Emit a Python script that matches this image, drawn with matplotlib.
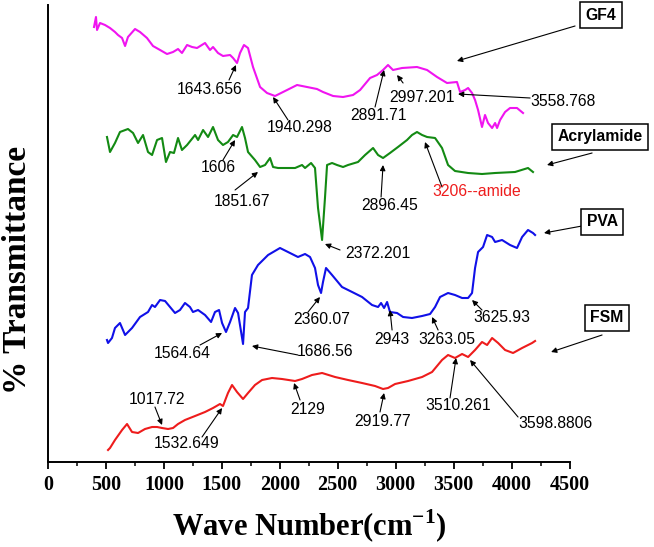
import matplotlib
matplotlib.use("Agg")
import matplotlib.pyplot as plt

# FTIR spectra, wavenumber (cm-1) vs transmittance (arbitrary offset units)
gf4_x = [397, 414, 423, 449, 492, 535, 578, 604, 639, 665, 690, 751, 794, 854, 906, 967,
         1027, 1079, 1122, 1156, 1200, 1243, 1286, 1355, 1398, 1424, 1467, 1510, 1571, 1597,
         1631, 1657, 1691, 1726, 1769, 1830, 1890, 1959, 2063, 2149, 2235, 2321, 2373, 2460,
         2546, 2632, 2693, 2779, 2839, 2891, 2934, 2977, 3055, 3184, 3271, 3357, 3443, 3529,
         3556, 3599, 3625, 3659, 3685, 3711, 3745, 3771, 3797, 3832, 3858, 3875, 3901, 3944,
         3987, 4047, 4099]
gf4_y = [435, 445, 432, 439, 437, 434, 430, 427, 424, 416, 425, 433, 430, 424, 416, 412,
         408, 410, 413, 409, 417, 415, 414, 419, 412, 415, 409, 406, 407, 404,
         399, 409, 417, 414, 395, 375, 369, 366, 372, 377, 375, 373, 370, 366,
         365, 367, 372, 384, 387, 392, 397, 392, 394, 395, 392, 385, 379, 380,
         370, 372, 374, 369, 362, 352, 335, 347, 339, 334, 339, 334, 342, 350,
         354, 354, 349]

acr_x = [509, 535, 578, 621, 690, 734, 777, 820, 863, 898, 941, 984, 1018, 1053, 1087, 1122,
         1156, 1200, 1269, 1295, 1338, 1381, 1424, 1467, 1510, 1553, 1597, 1631, 1674, 1700,
         1726, 1786, 1830, 1873, 1916, 1942, 1985, 2063, 2132, 2192, 2218, 2270, 2304, 2330,
         2365, 2390, 2408, 2451, 2494, 2546, 2589, 2675, 2736, 2805, 2848, 2891, 2951, 3020,
         3098, 3141, 3184, 3228, 3271, 3340, 3400, 3452, 3512, 3625, 3745, 3858, 4030, 4142,
         4185]
acr_y = [325, 310, 319, 330, 333, 329, 319, 327, 310, 307, 322, 324, 300, 310, 309, 324,
         312, 317, 327, 322, 332, 325, 335, 322, 317, 320, 327, 325, 335, 324,
         310, 302, 295, 297, 304, 295, 294, 294, 294, 297, 294, 299, 294, 254,
         222, 264, 297, 299, 297, 295, 297, 300, 307, 314, 307, 304, 309, 315,
         322, 327, 330, 327, 325, 324, 314, 297, 291, 289, 288, 289, 290, 294,
         290]

pva_x = [509, 518, 552, 578, 621, 665, 725, 794, 863, 898, 923, 967, 1010, 1053, 1096, 1139,
         1182, 1225, 1251, 1295, 1355, 1407, 1441, 1476, 1502, 1536, 1571, 1614, 1640, 1683,
         1700, 1726, 1760, 1812, 1899, 2002, 2071, 2157, 2218, 2261, 2304, 2330, 2356, 2373,
         2399, 2451, 2537, 2624, 2710, 2796, 2848, 2874, 2900, 2926, 2951, 3012, 3064, 3141,
         3228, 3297, 3340, 3383, 3452, 3512, 3573, 3625, 3659, 3685, 3711, 3754, 3789, 3832,
         3858, 3918, 3987, 4047, 4091, 4142, 4185, 4203]
pva_y = [122, 119, 124, 134, 139, 127, 134, 145, 150, 157, 155, 162, 161, 155, 149, 152,
         159, 155, 150, 152, 147, 140, 150, 152, 139, 130, 140, 154, 149, 118,
         150, 154, 187, 197, 207, 214, 210, 205, 208, 205, 194, 177, 169, 180,
         194, 187, 175, 170, 165, 157, 155, 159, 154, 160, 150, 149, 145, 144,
         146, 148, 155, 165, 169, 167, 164, 164, 169, 194, 210, 215, 227, 225,
         220, 222, 217, 214, 225, 232, 229, 227]

fsm_x = [518, 535, 578, 639, 682, 725, 777, 837, 898, 941, 984, 1036, 1079, 1122, 1182, 1269,
         1355, 1424, 1484, 1510, 1553, 1588, 1631, 1683, 1726, 1786, 1847, 1933, 2019, 2132,
         2192, 2278, 2365, 2477, 2589, 2710, 2822, 2891, 2934, 2995, 3107, 3228, 3314, 3400,
         3452, 3512, 3573, 3625, 3685, 3745, 3789, 3832, 3884, 3944, 4013, 4091, 4177, 4203]
fsm_y = [12, 14, 22, 32, 38, 30, 29, 33, 35, 35, 34, 33, 34, 38, 42, 46,
         50, 54, 58, 56, 69, 77, 70, 63, 69, 77, 82, 84, 83, 81,
         83, 87, 89, 85, 82, 79, 76, 73, 74, 78, 81, 85, 90, 102,
         107, 104, 108, 105, 112, 120, 117, 124, 119, 112, 109, 114, 119, 121]

# peak labels: text, text position, arrow tail, arrow tip, colour
peak_labels = [
    ("1643.656", (1398, 372), (1562, 382), (1622, 397), "black"),
    ("1940.298", (2175, 334), (2071, 342), (1942, 365), "black"),
    ("2891.71", (2848, 347), (2822, 355), (2900, 392), "black"),
    ("2997.201", (3228, 365), (3064, 379), (3012, 387), "black"),
    ("3558.768", (4444, 360), (4160, 364), (3538, 368), "black"),
    ("1606", (1467, 294), (1510, 302), (1614, 322), "black"),
    ("1851.67", (1674, 260), (1614, 272), (1812, 290), "black"),
    ("2372.201", (2848, 209), (2520, 212), (2390, 218), "black"),
    ("2896.45", (2951, 257), (2874, 265), (2891, 297), "black"),
    ("3206--amide", (3702, 270), (3400, 275), (3253, 320), "#ee1c1c"),
    ("2360.07", (2365, 142), (2244, 150), (2347, 165), "black"),
    ("1564.64", (1156, 108), (1312, 117), (1502, 129), "black"),
    ("1686.56", (2390, 110), (2157, 107), (1760, 116), "black"),
    ("2943", (2969, 123), (2969, 132), (2951, 152), "black"),
    ("3263.05", (3443, 123), (3366, 132), (3314, 145), "black"),
    ("3625.93", (3918, 144), (3745, 152), (3659, 162), "black"),
    ("1017.72", (941, 62), (923, 55), (984, 37), "black"),
    ("1532.649", (1200, 19), (1329, 25), (1502, 54), "black"),
    ("2129", (2244, 53), (2175, 62), (2123, 79), "black"),
    ("2919.77", (2891, 41), (2865, 50), (2900, 69), "black"),
    ("3510.261", (3538, 57), (3469, 64), (3521, 104), "black"),
    ("3598.8806", (4375, 39), (4056, 45), (3642, 102), "black"),
]

# sample name boxes: text, box position, arrow tail, arrow tip
names = [
    ("GF4", (4772, 447), (4548, 436), (3529, 401)),
    ("Acrylamide", (4763, 325), (4695, 309), (4306, 297)),
    ("PVA", (4781, 240), (4608, 236), (4280, 229)),
    ("FSM", (4824, 144), (4781, 127), (4341, 110)),
]

plt.rcParams["mathtext.fontset"] = "custom"
plt.rcParams["mathtext.rm"] = "Liberation Serif"
plt.rcParams["mathtext.bf"] = "Liberation Serif:bold"

fig = plt.figure(figsize=(6.54, 5.47), dpi=100)
ax = fig.add_axes([48 / 654, 1 - 462 / 547, 521.5 / 654, 457 / 547])

ax.plot(gf4_x, gf4_y, color="#f014f0", lw=1.5)
ax.plot(acr_x, acr_y, color="#138a13", lw=1.5)
ax.plot(pva_x, pva_y, color="#1010e8", lw=1.5)
ax.plot(fsm_x, fsm_y, color="#ee1c1c", lw=1.5)

arrow = dict(arrowstyle="-|>", color="black", lw=0.8, mutation_scale=8,
             shrinkA=0, shrinkB=0)

for txt, pos, tail, tip, col in peak_labels:
    ax.annotate("", xy=tip, xytext=tail, arrowprops=arrow, annotation_clip=False)
    ax.text(pos[0], pos[1], txt, color=col, fontsize=11.3, family="Liberation Sans",
            ha="center", va="center")

for txt, pos, tail, tip in names:
    ax.annotate("", xy=tip, xytext=tail, arrowprops=arrow, annotation_clip=False)
    ax.text(pos[0], pos[1], txt, fontsize=11.3, family="Liberation Sans",
            fontweight="bold", ha="center", va="center", clip_on=False,
            bbox=dict(boxstyle="square,pad=0.35", fc="white", ec="black", lw=1.1))

ax.set_xlim(0, 4500)
ax.set_ylim(0, 457)
ax.set_xticks(range(0, 4501, 500))
ax.set_xticks(range(250, 4500, 500), minor=True)
ax.set_yticks([])
ax.tick_params(axis="x", which="major", direction="out", length=5, width=1.3, pad=4)
ax.tick_params(axis="x", which="minor", direction="out", length=3, width=1.1)
for lab in ax.get_xticklabels():
    lab.set_family("Liberation Serif")
    lab.set_fontweight("bold")
    lab.set_fontsize(14.5)
for side in ("top", "right"):
    ax.spines[side].set_visible(False)
for side in ("left", "bottom"):
    ax.spines[side].set_linewidth(1.4)

fig.text(309 / 654, 1 - 526 / 547, r"Wave Number(cm$^{\mathbf{-1}}$)",
         family="Liberation Serif", fontweight="bold", fontsize=22,
         ha="center", va="center")
fig.text(18 / 654, 1 - 270 / 547, "% Transmittance", family="Liberation Serif",
         fontweight="bold", fontsize=24, rotation=90, ha="center", va="center")

fig.savefig("out.png", dpi=100)
